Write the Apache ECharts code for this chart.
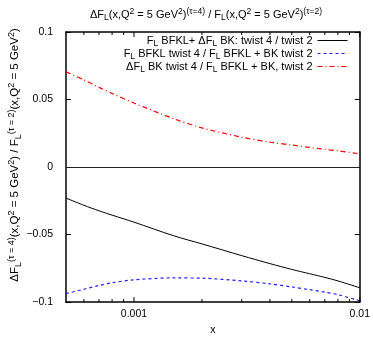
<!DOCTYPE html>
<html><head><meta charset="utf-8">
<script src="https://cdn.jsdelivr.net/npm/echarts@6/dist/echarts.min.js"></script>
<style>html,body{margin:0;padding:0;background:#fff}#c{width:373px;height:341px}</style>
</head><body><div id="c"></div>
<script>
const xValues = [0.0005, 0.0006, 0.0007, 0.0008, 0.001, 0.0015, 0.002, 0.003, 0.004, 0.005, 0.006, 0.007, 0.008, 0.01];
const blackY = [-0.023, -0.0283, -0.0324, -0.0356, -0.0408, -0.0509, -0.0569, -0.0656, -0.0715, -0.0758, -0.0790, -0.0817, -0.0843, -0.0894];
const blueY  = [-0.0937, -0.0905, -0.0877, -0.0857, -0.0835, -0.0821, -0.0823, -0.0843, -0.0865, -0.0888, -0.0908, -0.0926, -0.0945, -0.0990];
const redY   = [0.0705, 0.0646, 0.0590, 0.0545, 0.0474, 0.0358, 0.0290, 0.0221, 0.0185, 0.0163, 0.0145, 0.0131, 0.0120, 0.0098];
const majorTicksX = [0.001, 0.01];
const minorTicksX = [0.0006, 0.0007, 0.0008, 0.0009, 0.002, 0.003, 0.004, 0.005, 0.006, 0.007, 0.008, 0.009];
const seriesNames = ['s1', 's2', 's3'];
const seriesColors = ['#000000', '#2020ff', '#ff0000'];
const legendLabels = {
  s1: '{n|F}{sub|L}{n| BFKL+ ΔF}{sub|L}{n| BK: twist 4 / twist 2}',
  s2: '{n|F}{sub|L}{n| BFKL twist 4 / F}{sub|L}{n| BFKL + BK twist 2}',
  s3: '{n|ΔF}{sub|L}{n| BK twist 4 / F}{sub|L}{n| BFKL + BK, twist 2}'
};
const titleText = '{n|ΔF}{sub|L}{n|(x,Q}{sup|2}{n| = 5 GeV}{sup|2}{n|)}{sup|(τ=4)}{n| / F}{sub|L}{n|(x,Q}{sup|2}{n| = 5 GeV}{sup|2}{n|)}{sup|(τ=2)}';
const yTitleText = '{n|ΔF}{sub|L}{sup|(τ = 4)}{n|(x,Q}{sup|2}{n| = 5 GeV}{sup|2}{n|) / F}{sub|L}{sup|(τ = 2)}{n|(x,Q}{sup|2}{n| = 5 GeV}{sup|2}{n|)}';
const xTitle = 'x';

const FONT = 'Liberation Sans, Arial, Helvetica, sans-serif';
function makeRich(big, small, off) {
  return {
    n: {fontSize: big, fontFamily: FONT, fontWeight: 'normal', color: '#000'},
    sub: {fontSize: small, fontFamily: FONT, fontWeight: 'normal', color: '#000', padding: [off, 0, 0, 0]},
    sup: {fontSize: small, fontFamily: FONT, fontWeight: 'normal', color: '#000', padding: [0, 0, off, 0]}
  };
}
const richMain = makeRich(11, 8.5, 6);
const richY = makeRich(11.5, 9, 7);
const pairs = ys => xValues.map((x, i) => [x, ys[i]]);
const tickData = majorTicksX.map(v => [v, 0, 1]).concat(minorTicksX.map(v => [v, 0, 0]));

const chart = echarts.init(document.getElementById('c'), null, {renderer: 'canvas'});
chart.setOption({
  animation: false,
  backgroundColor: '#fff',
  title: {text: titleText, left: 85, top: 2, textStyle: {rich: richMain, fontSize: 11, fontWeight: 'normal'}},
  grid: {left: 66, right: 11, top: 32, bottom: 32, containLabel: false},
  legend: {
    data: seriesNames.map((n, i) => ({name: n, lineStyle: {color: seriesColors[i]}})),
    orient: 'vertical', right: 25, top: 35, align: 'right',
    itemWidth: 30, itemHeight: 8, itemGap: 0, padding: 0,
    itemStyle: {opacity: 0},
    lineStyle: {width: 1},
    formatter: n => legendLabels[n],
    textStyle: {rich: richMain, fontSize: 11, lineHeight: 11, padding: [0, 0, 0, 0]}
  },
  xAxis: [{
    type: 'log', min: 0.0005, max: 0.01, logBase: 10,
    name: xTitle, nameLocation: 'middle', nameGap: 22,
    nameTextStyle: {fontSize: 10.5, fontFamily: FONT, color: '#000'},
    axisLine: {show: true, onZero: false, lineStyle: {color: '#000', width: 1.5}},
    axisTick: {show: false}, splitLine: {show: false}, minorTick: {show: false},
    axisLabel: {color: '#000', fontSize: 10.5, fontFamily: FONT, margin: 7,
      formatter: v => { const l = Math.log10(v); return Math.abs(l - Math.round(l)) < 1e-6 ? String(+v.toPrecision(3)) : ''; }}
  }, {
    type: 'log', min: 0.0005, max: 0.01, position: 'top',
    axisLine: {show: true, onZero: false, lineStyle: {color: '#000', width: 1.5}},
    axisTick: {show: false}, axisLabel: {show: false}, splitLine: {show: false}
  }],
  yAxis: [{
    type: 'value', min: -0.1, max: 0.1, interval: 0.05,
    axisLine: {show: true, onZero: false, lineStyle: {color: '#000', width: 1.5}},
    axisTick: {show: true, inside: true, length: 5, lineStyle: {color: '#000'}},
    splitLine: {show: false},
    axisLabel: {color: '#000', fontSize: 10.5, fontFamily: FONT, margin: 13,
      formatter: v => { const r = Math.round(v * 1000) / 1000; return r === 0 ? '0' : (r < 0 ? '\u2212' : '') + Math.abs(r); }}
  }, {
    type: 'value', min: -0.1, max: 0.1, interval: 0.05, position: 'right',
    axisLine: {show: true, onZero: false, lineStyle: {color: '#000', width: 1.5}},
    axisTick: {show: true, inside: true, length: 5, lineStyle: {color: '#000'}},
    axisLabel: {show: false}, splitLine: {show: false}
  }],
  graphic: [{
    type: 'text', x: 15, y: 155, rotation: Math.PI / 2,
    style: {text: yTitleText, rich: richY, align: 'center', verticalAlign: 'middle'}
  }],
  series: [{
    name: 's1', type: 'line', data: pairs(blackY), symbol: 'none', smooth: 0.3,
    lineStyle: {color: seriesColors[0], width: 1}, itemStyle: {color: seriesColors[0]},
    markLine: {silent: true, symbol: 'none', label: {show: false},
      lineStyle: {color: '#222', width: 1.2, type: 'solid'}, data: [{yAxis: 0}]}
  }, {
    name: 's2', type: 'line', data: pairs(blueY), symbol: 'none', smooth: 0.3,
    lineStyle: {color: seriesColors[1], width: 1.2, type: [3, 3]}, itemStyle: {color: seriesColors[1]}
  }, {
    name: 's3', type: 'line', data: pairs(redY), symbol: 'none', smooth: 0.3,
    lineStyle: {color: seriesColors[2], width: 1.2, type: [5, 3, 1, 3]}, itemStyle: {color: seriesColors[2]}
  }, {
    name: 'ticks', type: 'custom', data: tickData, silent: true, z: 5,
    renderItem: (params, api) => {
      const cs = params.coordSys;
      const x = api.coord([api.value(0), 0])[0];
      const len = api.value(2) ? 5 : 3;
      const st = {stroke: '#000', lineWidth: 1};
      return {type: 'group', children: [
        {type: 'line', shape: {x1: x, y1: cs.y + cs.height, x2: x, y2: cs.y + cs.height - len}, style: st},
        {type: 'line', shape: {x1: x, y1: cs.y, x2: x, y2: cs.y + len}, style: st}
      ]};
    }
  }]
});
</script></body></html>
